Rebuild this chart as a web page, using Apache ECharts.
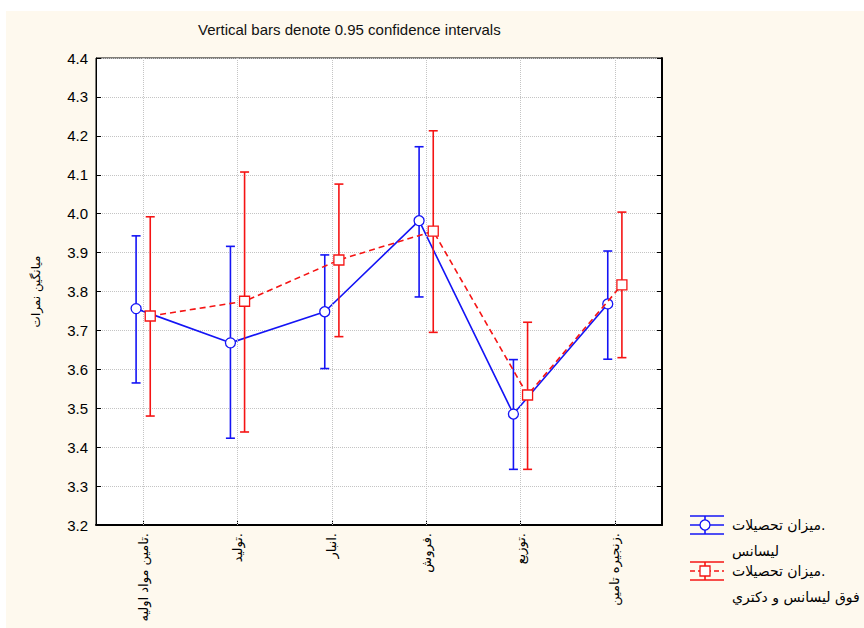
<!DOCTYPE html>
<html><head><meta charset="utf-8">
<script src="https://cdn.jsdelivr.net/npm/echarts@6/dist/echarts.min.js"></script>
<style>
html,body{margin:0;padding:0;background:#ffffff;}
#bg{position:absolute;left:6px;top:11px;width:858px;height:617px;background:#FEF9EE;}
#c{position:absolute;left:0;top:0;width:864px;height:628px;}
</style>
</head><body><div id="bg"></div><div id="c"></div>
<script>
// ---- data ----
const categories = ['تامین مواد اولیه.', 'تولید.', 'انبار.', 'فروش.', 'توزیع.', 'زنجیره تامین.'];
const yTicks = [3.2, 3.3, 3.4, 3.5, 3.6, 3.7, 3.8, 3.9, 4.0, 4.1, 4.2, 4.3, 4.4];
const blueName = ['میزان تحصیلات.', 'لیسانس'];
const blueMean = [3.756, 3.668, 3.748, 3.982, 3.485, 3.768];
const blueLow  = [3.565, 3.423, 3.602, 3.786, 3.343, 3.626];
const blueHigh = [3.943, 3.916, 3.894, 4.172, 3.625, 3.904];
const redName = ['میزان تحصیلات.', 'فوق لیسانس و دکتري'];
const redMean = [3.737, 3.775, 3.881, 3.955, 3.534, 3.817];
const redLow  = [3.480, 3.439, 3.684, 3.695, 3.343, 3.630];
const redHigh = [3.992, 4.107, 4.076, 4.213, 3.721, 4.004];

// ---- styling ----
const BLUE = '#1414F5', RED = '#F51414';
const OFF = 0.075; // horizontal offset of each group inside its category (category units)
const ARAB = "'DejaVu Sans', sans-serif";
const LAT = "'Liberation Sans', Arial, sans-serif";

function pts(vals, off) { return vals.map((v, i) => [i + off, v]); }
function bars(lo, hi, off) { return lo.map((v, i) => [i + off, v, hi[i]]); }
function errRender(color) {
  return function (params, api) {
    const x = api.value(0), lo = api.value(1), hi = api.value(2);
    const a = api.coord([x, hi]), b = api.coord([x, lo]);
    const w = 4.5;
    const style = { stroke: color, lineWidth: 1.6, fill: null };
    return { type: 'group', children: [
      { type: 'line', shape: { x1: a[0], y1: a[1], x2: b[0], y2: b[1] }, style },
      { type: 'line', shape: { x1: a[0] - w, y1: a[1], x2: a[0] + w, y2: a[1] }, style },
      { type: 'line', shape: { x1: b[0] - w, y1: b[1], x2: b[0] + w, y2: b[1] }, style }
    ]};
  };
}

function legendItem(cy, color, dashed, isSquare, lines) {
  const gx0 = 690, gx1 = 724, cx = 705;
  const solid = { stroke: color, lineWidth: 1.6 };
  const mid = { stroke: color, lineWidth: 1.6, lineDash: dashed ? [5, 3] : null };
  const font = "14px " + ARAB;
  const els = [
    { type: 'line', shape: { x1: gx0, y1: cy - 9, x2: gx1, y2: cy - 9 }, style: solid },
    { type: 'line', shape: { x1: gx0, y1: cy + 9, x2: gx1, y2: cy + 9 }, style: solid },
    { type: 'line', shape: { x1: cx, y1: cy - 9, x2: cx, y2: cy + 9 }, style: solid },
    { type: 'line', shape: { x1: gx0, y1: cy, x2: gx1, y2: cy }, style: mid },
    isSquare
      ? { type: 'rect', shape: { x: cx - 5, y: cy - 5, width: 10, height: 10 }, style: { fill: '#fff', stroke: color, lineWidth: 1.3 } }
      : { type: 'circle', shape: { cx: cx, cy: cy, r: 5 }, style: { fill: '#fff', stroke: color, lineWidth: 1.3 } },
    { type: 'text', x: 732, y: cy, style: { text: lines[0], fill: '#000', font: font, verticalAlign: 'middle', align: 'left' } },
    { type: 'text', x: 732, y: cy + 26, style: { text: lines[1], fill: '#000', font: font, verticalAlign: 'middle', align: 'left' } }
  ];
  return { type: 'group', children: els };
}

const chart = echarts.init(document.getElementById('c'), null, { renderer: 'svg' });
chart.setOption({
  animation: false,
  backgroundColor: 'transparent',
  title: {
    text: 'Vertical bars denote 0.95 confidence intervals',
    left: 193, top: 17,
    textStyle: { fontSize: 15, fontWeight: 'normal', color: '#111', fontFamily: LAT }
  },
  grid: { left: 96, top: 58, width: 566, height: 467, show: true, backgroundColor: '#ffffff', borderColor: '#000', borderWidth: 1 },
  xAxis: [
    {
      type: 'category', data: categories, position: 'bottom', boundaryGap: true,
      axisLine: { show: true, onZero: false, lineStyle: { color: '#000', width: 2 } },
      axisTick: { show: true, inside: true, alignWithLabel: true, length: 5, lineStyle: { color: '#000' } },
      axisLabel: { rotate: 90, margin: 8, fontSize: 13, color: '#000', fontFamily: ARAB },
      splitLine: { show: false }
    },
    {
      type: 'value', min: -0.5, max: 5.5, position: 'top', show: false,
      axisLine: { onZero: false }
    }
  ],
  yAxis: [
    {
      type: 'value', min: yTicks[0], max: yTicks[yTicks.length - 1], interval: 0.1, position: 'left',
      name: 'میانگین نمرات', nameLocation: 'middle', nameGap: 54, nameRotate: 90,
      nameTextStyle: { fontSize: 12, color: '#000', fontFamily: ARAB },
      axisLine: { show: true, onZero: false, lineStyle: { color: '#000', width: 1 } },
      axisTick: { show: true, inside: true, length: 5, lineStyle: { color: '#000' } },
      axisLabel: { margin: 8, fontSize: 15, color: '#000', fontFamily: LAT, formatter: v => v.toFixed(1) },
      splitLine: { show: true, lineStyle: { color: '#c4c4c4', type: 'dotted', width: 1 } }
    },
    {
      type: 'value', min: yTicks[0], max: yTicks[yTicks.length - 1], interval: 0.1, position: 'right',
      axisLine: { show: true, onZero: false, lineStyle: { color: '#000', width: 2 } },
      axisTick: { show: true, inside: true, length: 5, lineStyle: { color: '#000' } },
      axisLabel: { show: false },
      splitLine: { show: false }
    }
  ],
  series: [
    {
      name: 'grid-v', type: 'line', xAxisIndex: 1, yAxisIndex: 0, data: [], silent: true, z: 1,
      markLine: {
        silent: true, symbol: ['none', 'none'], label: { show: false },
        lineStyle: { color: '#c4c4c4', type: 'dotted', width: 1 },
        data: categories.map((c, i) => ({ xAxis: i }))
      }
    },
    {
      name: 'blue-err', type: 'custom', xAxisIndex: 1, yAxisIndex: 0, z: 3,
      renderItem: errRender(BLUE), data: bars(blueLow, blueHigh, -OFF), encode: { x: 0, y: [1, 2] }
    },
    {
      name: 'blue', type: 'line', xAxisIndex: 1, yAxisIndex: 0, z: 4,
      data: pts(blueMean, -OFF), symbol: 'circle', symbolSize: 10,
      lineStyle: { color: BLUE, width: 1.6 },
      itemStyle: { color: '#fff', borderColor: BLUE, borderWidth: 1.3 }
    },
    {
      name: 'red-err', type: 'custom', xAxisIndex: 1, yAxisIndex: 0, z: 5,
      renderItem: errRender(RED), data: bars(redLow, redHigh, OFF), encode: { x: 0, y: [1, 2] }
    },
    {
      name: 'red', type: 'line', xAxisIndex: 1, yAxisIndex: 0, z: 6,
      data: pts(redMean, OFF), symbol: 'rect', symbolSize: 10,
      lineStyle: { color: RED, width: 1.6, type: [6, 4] },
      itemStyle: { color: '#fff', borderColor: RED, borderWidth: 1.3 }
    }
  ],
  graphic: [
    legendItem(525, BLUE, false, false, blueName),
    legendItem(571, RED, true, true, redName)
  ]
});
</script>
</body></html>
